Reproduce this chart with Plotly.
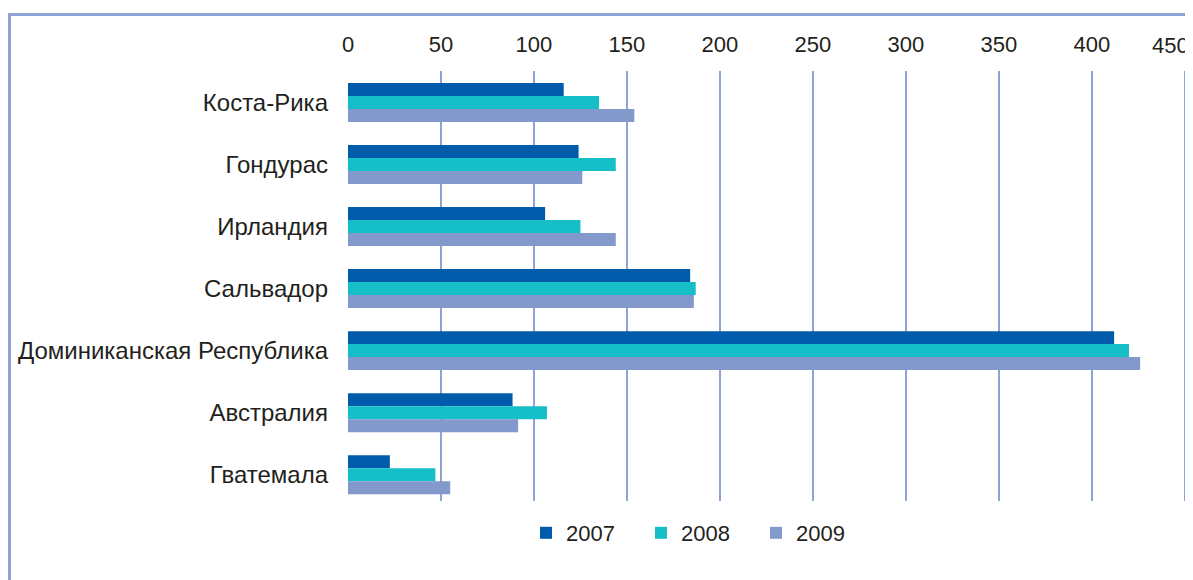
import plotly.graph_objects as go

countries = ["Коста-Рика", "Гондурас", "Ирландия", "Сальвадор",
             "Доминиканская Республика", "Австралия", "Гватемала"]
years = ["2007", "2008", "2009"]
v2007 = [116, 124, 106, 184, 412, 88.5, 22.5]
v2008 = [135, 144, 125, 187, 420, 107, 47]
v2009 = [154, 126, 144, 186, 426, 91.5, 55]
x_ticks = [0, 50, 100, 150, 200, 250, 300, 350, 400, 450]
# the last label sits at the right edge; it is drawn right-aligned below
x_tick_labels = ["0", "50", "100", "150", "200", "250", "300", "350",
                 "400", ""]
last_tick_label = "450"

colors = ["#005BAB", "#16BEC8", "#8399CC"]
series = [v2007, v2008, v2009]

# the page body has an 8px margin, so the figure is drawn 8px in/down
OFF = 8
W, H = 1193 - OFF, 580 - OFF
ML, MR, MT, MB = 348 - OFF, 6, 71 - OFF, 79
pw = W - ML - MR
ph = H - MT - MB


def px_x(x):
    return (x - OFF - ML) / pw


def px_y(y):
    return (H - MB - (y - OFF)) / ph


fig = go.Figure()
for name, vals, col in zip(years, series, colors):
    fig.add_trace(go.Bar(
        y=countries, x=vals, name=name, orientation="h",
        marker=dict(color=col, line=dict(width=0)),
    ))

font_fam = "Liberation Sans, Arial, sans-serif"
fig.update_layout(
    width=W, height=H,
    margin=dict(l=ML, r=MR, t=MT, b=MB, pad=0, autoexpand=False),
    paper_bgcolor="white", plot_bgcolor="white",
    barmode="group", bargap=0.372, bargroupgap=0,
    font=dict(family=font_fam, size=22, color="#231F20"),
    xaxis=dict(
        side="top", range=[0, 451.2],
        tickmode="array", tickvals=x_ticks, ticktext=x_tick_labels,
        showgrid=True, gridcolor="#8EA3D6", gridwidth=1.5,
        zeroline=False, showline=False, ticks="",
        ticklabelstandoff=14, automargin=False, fixedrange=True,
    ),
    yaxis=dict(
        categoryorder="array", categoryarray=countries,
        range=[6.424, -0.507], showgrid=False, zeroline=False,
        showline=False, ticks="", ticklabelstandoff=19,
        tickfont=dict(size=24), automargin=False,
    ),
    legend=dict(
        orientation="h", x=px_x(526), xanchor="left",
        y=px_y(533), yanchor="middle",
        entrywidth=70, entrywidthmode="pixels",
        font=dict(size=22), bgcolor="rgba(0,0,0,0)",
    ),
    showlegend=True,
)

fig.add_annotation(
    x=x_ticks[-1], xref="x", xanchor="right", xshift=6,
    y=px_y(45), yref="paper", yanchor="middle",
    text=last_tick_label, showarrow=False,
    font=dict(family=font_fam, size=22, color="#231F20"),
)

# outer frame of the original chart (left and top edges visible)
bc = "#8EA3D6"
fig.add_shape(type="line", xref="paper", yref="paper",
              x0=px_x(9.5), x1=px_x(9.5),
              y0=px_y(14), y1=px_y(620),
              line=dict(color=bc, width=3))
fig.add_shape(type="line", xref="paper", yref="paper",
              x0=px_x(8), x1=px_x(1220),
              y0=px_y(14.5), y1=px_y(14.5),
              line=dict(color=bc, width=3))

fig.write_html("out.html")
